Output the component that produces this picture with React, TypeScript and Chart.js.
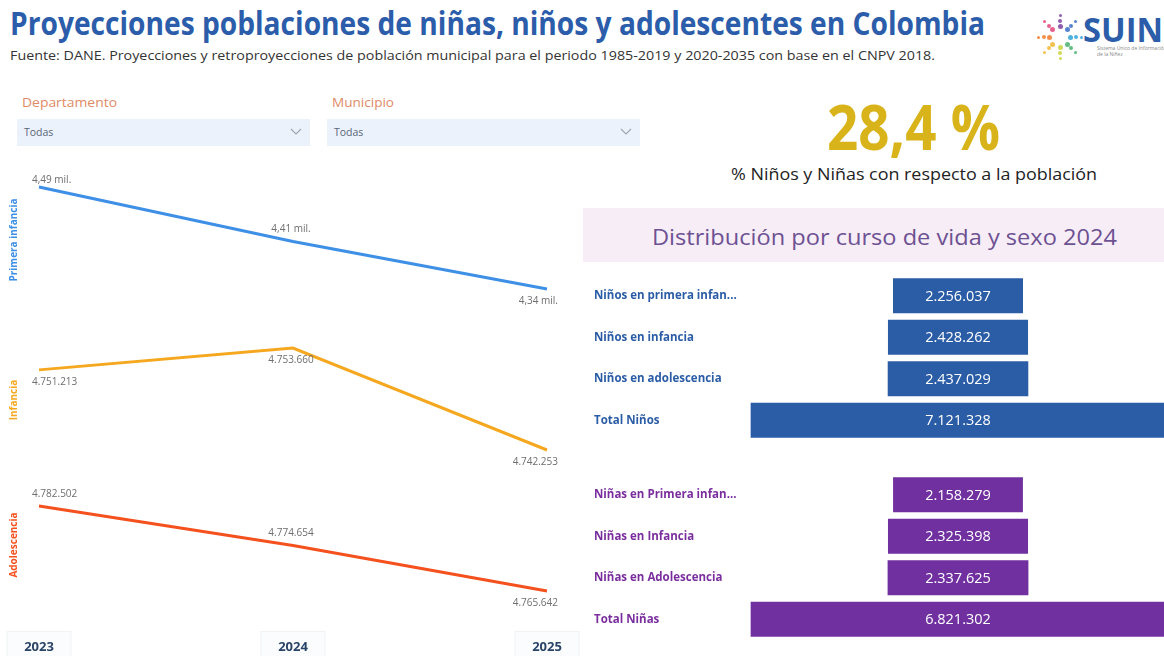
import React, { useEffect, useLayoutEffect, useRef } from 'react';
import { Chart, registerables } from 'chart.js';

Chart.register(...registerables);

const FONT = "'Open Sans', 'Noto Sans', sans-serif";
Chart.defaults.font.family = FONT;

// ---------------- data ----------------
const years = ['2023', '2024', '2025'];
const primeraInfancia = [4.49, 4.41, 4.34]; // millones
const infancia = [4751213, 4753660, 4742253];
const adolescencia = [4782502, 4774654, 4765642];

const ninosLabels = ['Niños en primera infan...', 'Niños en infancia', 'Niños en adolescencia', 'Total Niños'];
const ninosValues = [2256037, 2428262, 2437029, 7121328];
const ninasLabels = ['Niñas en Primera infan...', 'Niñas en Infancia', 'Niñas en Adolescencia', 'Total Niñas'];
const ninasValues = [2158279, 2325398, 2337625, 6821302];

const kpiText = '28,4 %';

// ---------------- helpers ----------------
const fmtMiles = (v: number) => Math.round(v).toString().replace(/\B(?=(\d{3})+(?!\d))/g, '.');
const fmtMill = (v: number) => v.toFixed(2).replace('.', ',') + ' mil.';

function FitText(props: { text: string; left: number; top: number; width: number; style: React.CSSProperties }) {
  const ref = useRef<HTMLSpanElement>(null);
  useLayoutEffect(() => {
    const el = ref.current!;
    el.style.transform = 'none';
    const w = el.getBoundingClientRect().width;
    el.style.transform = `scaleX(${props.width / w})`;
  }, []);
  return (
    <span
      ref={ref}
      style={{
        position: 'absolute', left: props.left, top: props.top, whiteSpace: 'nowrap',
        transformOrigin: 'left top', lineHeight: 1, fontFamily: FONT, ...props.style,
      }}
    >
      {props.text}
    </span>
  );
}

type Pos = 'above' | 'near' | 'below';

function makePointLabels(fmt: (v: number) => string, positions: Pos[]) {
  return {
    id: 'pointLabels',
    afterDatasetsDraw(chart: any) {
      const { ctx } = chart;
      const meta = chart.getDatasetMeta(0);
      const ds = chart.data.datasets[0];
      const last = meta.data.length - 1;
      ctx.save();
      ctx.font = `10px ${FONT}`;
      ctx.fillStyle = '#6e6e6e';
      ctx.textBaseline = 'middle';
      meta.data.forEach((pt: any, i: number) => {
        const text = fmt(ds.data[i] as number);
        let x = pt.x - 2;
        ctx.textAlign = 'center';
        if (i === 0) { ctx.textAlign = 'left'; x = pt.x - 7; }
        if (i === last) { ctx.textAlign = 'right'; x = pt.x + 11; }
        const off = positions[i] === 'above' ? -12 : positions[i] === 'near' ? -7 : 12;
        ctx.fillText(text, x, pt.y + off);
      });
      ctx.restore();
    },
  };
}

const tickBoxes = {
  id: 'tickBoxes',
  beforeDraw(chart: any) {
    const { ctx } = chart;
    const xs = chart.scales.x;
    ctx.save();
    xs.ticks.forEach((_t: any, i: number) => {
      const x = xs.getPixelForTick(i);
      ctx.fillStyle = '#fbfcfd';
      ctx.strokeStyle = '#f0f3f6';
      ctx.lineWidth = 1;
      ctx.fillRect(x - 32, 156.5, 64, 30);
      ctx.strokeRect(x - 32, 156.5, 64, 30);
    });
    ctx.restore();
  },
};

function LineFacet(props: {
  top: number; height: number; values: number[]; color: string; title: string;
  fmt: (v: number) => string; positions: Pos[]; yMin: number; yMax: number; showX: boolean;
}) {
  const ref = useRef<HTMLCanvasElement>(null);
  useEffect(() => {
    const p = props;
    const plugins: any[] = [makePointLabels(p.fmt, p.positions)];
    if (p.showX) plugins.push(tickBoxes);
    const chart = new Chart(ref.current!, {
      type: 'line',
      data: {
        labels: years,
        datasets: [{
          data: p.values, borderColor: p.color, borderWidth: 3, pointRadius: 0,
          tension: 0, fill: false,
        }],
      },
      options: {
        animation: false,
        responsive: true,
        maintainAspectRatio: false,
        layout: { padding: { left: 0, right: 33, top: 0, bottom: 0 } },
        plugins: { legend: { display: false }, tooltip: { enabled: false } },
        scales: {
          x: {
            display: p.showX,
            offset: false,
            grid: { display: false, drawTicks: false },
            border: { display: false },
            ticks: { color: '#2a4468', font: { family: FONT, size: 13, weight: 'bold' }, padding: 24 },
            afterFit: (a: any) => {
              if (p.showX) { a.height = 41; a.paddingLeft = 0; a.paddingRight = 0; }
            },
          },
          y: {
            min: p.yMin,
            max: p.yMax,
            grid: { display: false },
            border: { display: false },
            ticks: { display: false },
            title: {
              display: true, text: p.title, color: p.color,
              font: { family: FONT, size: 10, weight: 'bold' }, padding: { top: 8, bottom: 0 },
            },
            afterFit: (a: any) => { a.width = 39; a.paddingTop = 0; a.paddingBottom = 0; },
          },
        },
      } as any,
      plugins,
    });
    return () => chart.destroy();
  }, []);
  return (
    <div style={{ position: 'absolute', left: 0, top: props.top, width: 580, height: props.height }}>
      <canvas ref={ref} />
    </div>
  );
}

const barValues = {
  id: 'barValues',
  afterDatasetsDraw(chart: any) {
    const { ctx } = chart;
    const meta = chart.getDatasetMeta(0);
    const vals: number[] = chart.data.datasets[0].rawValues;
    const cx = chart.scales.x.getPixelForValue(0);
    ctx.save();
    ctx.font = `14.5px ${FONT}`;
    ctx.fillStyle = '#ffffff';
    ctx.textAlign = 'center';
    ctx.textBaseline = 'middle';
    meta.data.forEach((bar: any, i: number) => {
      ctx.fillText(fmtMiles(vals[i]), cx, bar.y + 1);
    });
    ctx.restore();
  },
};

function Funnel(props: { top: number; labels: string[]; values: number[]; color: string; labelColor: string }) {
  const ref = useRef<HTMLCanvasElement>(null);
  useEffect(() => {
    const p = props;
    const T = Math.max(...p.values);
    const unit = 416.7 / T; // px per value unit
    const chart = new Chart(ref.current!, {
      type: 'bar',
      data: {
        labels: p.labels,
        datasets: [{
          data: p.values.map((v) => [-v / 2, v / 2]),
          rawValues: p.values,
          backgroundColor: p.color,
          borderColor: 'rgba(255,255,255,0.35)',
          borderWidth: 1,
          barPercentage: 0.89,
          categoryPercentage: 1,
          borderSkipped: false,
        } as any],
      },
      options: {
        indexAxis: 'y',
        animation: false,
        responsive: true,
        maintainAspectRatio: false,
        layout: { padding: { left: 11, right: 0, top: 0, bottom: 0 } },
        plugins: { legend: { display: false }, tooltip: { enabled: false } },
        scales: {
          x: { display: false, min: -215 / unit, max: 206 / unit },
          y: {
            grid: { display: false },
            border: { display: false },
            ticks: {
              crossAlign: 'far', color: p.labelColor, padding: 0,
              font: { family: FONT, size: 11.5, weight: 'bold' },
            },
            afterFit: (a: any) => { a.width = 149; a.paddingTop = 0; a.paddingBottom = 0; },
          },
        },
      } as any,
      plugins: [barValues],
    });
    return () => chart.destroy();
  }, []);
  return (
    <div style={{ position: 'absolute', left: 583, top: props.top, width: 581, height: 166 }}>
      <canvas ref={ref} />
    </div>
  );
}

function Chevron(props: { left: number; top: number }) {
  return (
    <svg style={{ position: 'absolute', left: props.left, top: props.top }} width="12" height="8">
      <polyline points="1,1 6,6 11,1" fill="none" stroke="#9aa5b4" strokeWidth="1.1" />
    </svg>
  );
}

function Slicer(props: { left: number; width: number; label: string }) {
  return (
    <>
      <FitText text={props.label} left={props.left + 5} top={96} width={props.label === 'Departamento' ? 95 : 62}
        style={{ fontSize: 13, color: '#e08a66' }} />
      <div style={{ position: 'absolute', left: props.left, top: 119, width: props.width, height: 27, background: '#ebf2fc' }} />
      <span style={{ position: 'absolute', left: props.left + 7, top: 127, fontSize: 10.5, lineHeight: 1, color: '#5a6678', fontFamily: FONT }}>Todas</span>
      <Chevron left={props.left + props.width - 20} top={128} />
    </>
  );
}

function Logo() {
  const colors = ['#7b3fa0', '#3a6fc4', '#2fa4d8', '#49b26a', '#c9d23a', '#f2b632', '#f07a2a', '#e2457a'];
  const dots: JSX.Element[] = [];
  for (let r = 0; r < 8; r++) {
    const ang = (r / 8) * Math.PI * 2 - Math.PI / 2;
    for (let k = 1; k <= 3; k++) {
      const d = 5 + k * 5.5;
      const s = 6 - k;
      dots.push(
        <div key={`${r}-${k}`} style={{
          position: 'absolute', left: 1060 + Math.cos(ang) * d - s / 2, top: 37 + Math.sin(ang) * d - s / 2,
          width: s, height: s, borderRadius: '50%', background: colors[r], opacity: 0.85,
        }} />,
      );
    }
  }
  return (
    <>
      {dots}
      <FitText text="SUIN" left={1083} top={12} width={80} style={{ fontSize: 34, fontWeight: 700, color: '#2b5da8' }} />
      <span style={{ position: 'absolute', left: 1097, top: 45, fontSize: 5, lineHeight: 1.2, color: '#888', fontFamily: FONT, width: 70 }}>
        Sistema Único de Información de la Niñez
      </span>
    </>
  );
}

export default function App() {
  return (
    <div style={{ position: 'fixed', left: 0, top: 0, width: 1164, height: 656, background: '#ffffff', overflow: 'hidden', fontFamily: FONT }}>
      <FitText text="Proyecciones poblaciones de niñas, niños y adolescentes en Colombia" left={10} top={7} width={975}
        style={{ fontSize: 32, fontWeight: 700, color: '#2b5daa' }} />
      <FitText text="Fuente: DANE. Proyecciones y retroproyecciones de población municipal para el periodo 1985-2019 y 2020-2035 con base en el CNPV 2018."
        left={10} top={50} width={925} style={{ fontSize: 12, color: '#333333' }} />
      <Logo />

      <Slicer left={17} width={293} label="Departamento" />
      <Slicer left={327} width={313} label="Municipio" />

      <FitText text={kpiText} left={827} top={95} width={173} style={{ fontSize: 62, fontWeight: 700, color: '#d8b41a' }} />
      <FitText text="% Niños y Niñas con respecto a la población" left={731} top={166} width={366}
        style={{ fontSize: 16.5, color: '#222222' }} />

      <div style={{ position: 'absolute', left: 583, top: 208, width: 581, height: 54, background: '#f7edf7' }} />
      <FitText text="Distribución por curso de vida y sexo 2024" left={652} top={225} width={465}
        style={{ fontSize: 22, color: '#6d5192' }} />

      <LineFacet top={165} height={150} values={primeraInfancia} color="#3e8fe6" title="Primera infancia"
        fmt={fmtMill} positions={['near', 'above', 'below']} yMin={4.3018} yMax={4.5224} showX={false} />
      <LineFacet top={325} height={150} values={infancia} color="#f5a81f" title="Infancia"
        fmt={fmtMiles} positions={['below', 'below', 'below']} yMin={4739457} yMax={4756232} showX={false} />
      <LineFacet top={475} height={181} values={adolescencia} color="#f4511e" title="Adolescencia"
        fmt={fmtMiles} positions={['above', 'above', 'below']} yMin={4760882} yMax={4788651} showX={true} />

      <Funnel top={275} labels={ninosLabels} values={ninosValues} color="#2b5ca6" labelColor="#2b5ca6" />
      <Funnel top={474} labels={ninasLabels} values={ninasValues} color="#7030a0" labelColor="#7a2e9e" />
    </div>
  );
}
